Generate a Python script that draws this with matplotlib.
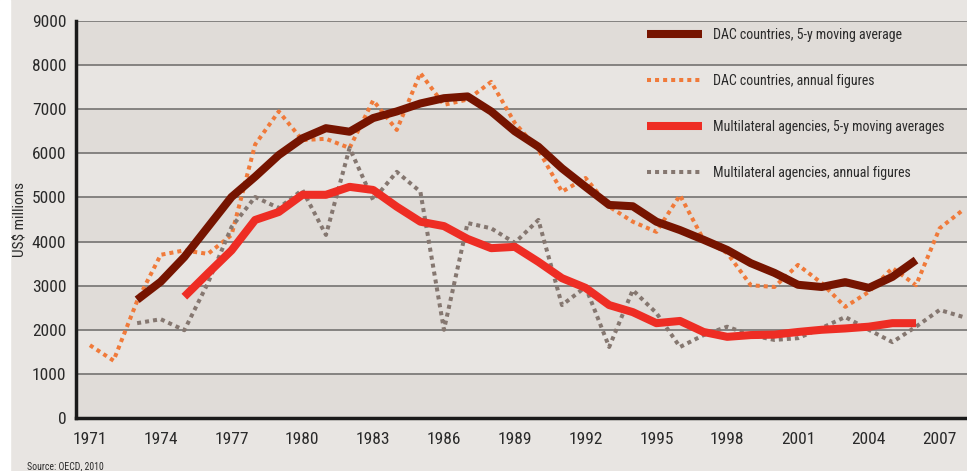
import matplotlib
matplotlib.use("Agg")
from matplotlib import pyplot as plt
import matplotlib.patches as mpatches

# data (US$ millions)
years_dac_annual = list(range(1971, 2009))
dac_annual = [1650, 1300, 2650, 3700, 3800, 3720, 4150, 6200, 6950, 6300,
              6330, 6120, 7200, 6530, 7820, 7100, 7220, 7620, 6690, 6080,
              5130, 5440, 4790, 4450, 4220, 5050, 4040, 3740, 3010, 2970,
              3470, 3060, 2520, 2860, 3400, 3010, 4300, 4720]

years_dac_ma = list(range(1973, 2007))
dac_ma = [2680, 3090, 3650, 4330, 5010, 5470, 5960, 6340, 6570, 6490,
          6800, 6950, 7130, 7250, 7290, 6950, 6500, 6150, 5660, 5240,
          4830, 4800, 4450, 4260, 4040, 3810, 3510, 3290, 3020, 2970,
          3080, 2950, 3200, 3580]

years_multi_ma = list(range(1975, 2007))
multi_ma = [2750, 3280, 3800, 4490, 4670, 5060, 5060, 5240, 5170, 4790,
            4450, 4350, 4060, 3850, 3880, 3540, 3170, 2950, 2560, 2400,
            2150, 2200, 1950, 1840, 1880, 1890, 1950, 2000, 2030, 2070,
            2150, 2150]

years_multi_annual = list(range(1973, 2009))
multi_annual = [2150, 2240, 1990, 3060, 4330, 5010, 4760, 5170, 4150, 6120,
                4940, 5580, 5130, 2000, 4420, 4300, 3970, 4490, 2560, 2970,
                1610, 2900, 2380, 1610, 1880, 2070, 1880, 1770, 1810, 2040,
                2290, 2000, 1720, 2070, 2450, 2290]

xticks = list(range(1971, 2008, 3))
yticks = list(range(0, 9001, 1000))

bg = "#e8e5e2"
band = "#e0dcd8"
font = ["Roboto Condensed", "Roboto", "DejaVu Sans"]

fig = plt.figure(figsize=(9.67, 4.71), dpi=100, facecolor=bg)
fig.patches.append(mpatches.Rectangle((0, 0), 10 / 967, 1, transform=fig.transFigure,
                                      color="white", zorder=0))
ax = fig.add_axes([76 / 967, 1 - 418 / 471, 1 - 76 / 967, (418 - 21) / 471])
ax.set_facecolor(bg)

# alternating bands
for lo in range(0, 9000, 2000):
    ax.axhspan(lo, lo + 1000, color=band, zorder=0, lw=0)
for y in yticks[1:]:
    ax.axhline(y, color="#7d7b79", lw=1.3, zorder=1)

ax.plot(years_dac_annual, dac_annual, color="#f07a3a", lw=2.9,
        linestyle=(0, (1, 1)), zorder=3, label="DAC countries, annual figures")
ax.plot(years_multi_annual, multi_annual, color="#857770", lw=2.9,
        linestyle=(0, (1, 1)), zorder=3, label="Multilateral agencies, annual figures")
ax.plot(years_dac_ma, dac_ma, color="#761400", lw=5.8, zorder=4,
        solid_capstyle="butt", label="DAC countries, 5-y moving average")
ax.plot(years_multi_ma, multi_ma, color="#ee2d24", lw=5.8, zorder=4,
        solid_capstyle="butt", label="Multilateral agencies, 5-y moving averages")

ax.set_xlim(1970.41, 2008.16)
ax.set_ylim(0, 9000)
ax.set_xticks(xticks)
ax.set_yticks(yticks)
ax.tick_params(length=0, labelsize=12.5, colors="#2a2a2a", pad=7)
ax.tick_params(axis="x", pad=10)
for lab in ax.get_xticklabels() + ax.get_yticklabels():
    lab.set_fontfamily(font)

for s in ["top", "right"]:
    ax.spines[s].set_visible(False)
for s in ["left", "bottom"]:
    ax.spines[s].set_linewidth(2.5)
    ax.spines[s].set_color("#1a1a1a")
    ax.spines[s].set_zorder(5)

ax.set_ylabel("US$ millions", fontsize=11, family=font, color="#2a2a2a")
ax.yaxis.set_label_coords(-49 / 891, 0.5)

handles, labels = ax.get_legend_handles_labels()
order = [2, 0, 3, 1]
leg = ax.legend([handles[i] for i in order], [labels[i] for i in order],
                loc="upper left", bbox_to_anchor=(0.627, 1.013), frameon=False,
                handlelength=3.96, handletextpad=0.8, labelspacing=2.29,
                prop={"family": font, "size": 10})
for t in leg.get_texts():
    t.set_color("#2a2a2a")

fig.text(27 / 967, 1 - 466 / 471, "Source: OECD, 2010", fontsize=7, family=font,
         color="#2a2a2a", va="center")

fig.savefig("out.png", dpi=100, facecolor=bg)
